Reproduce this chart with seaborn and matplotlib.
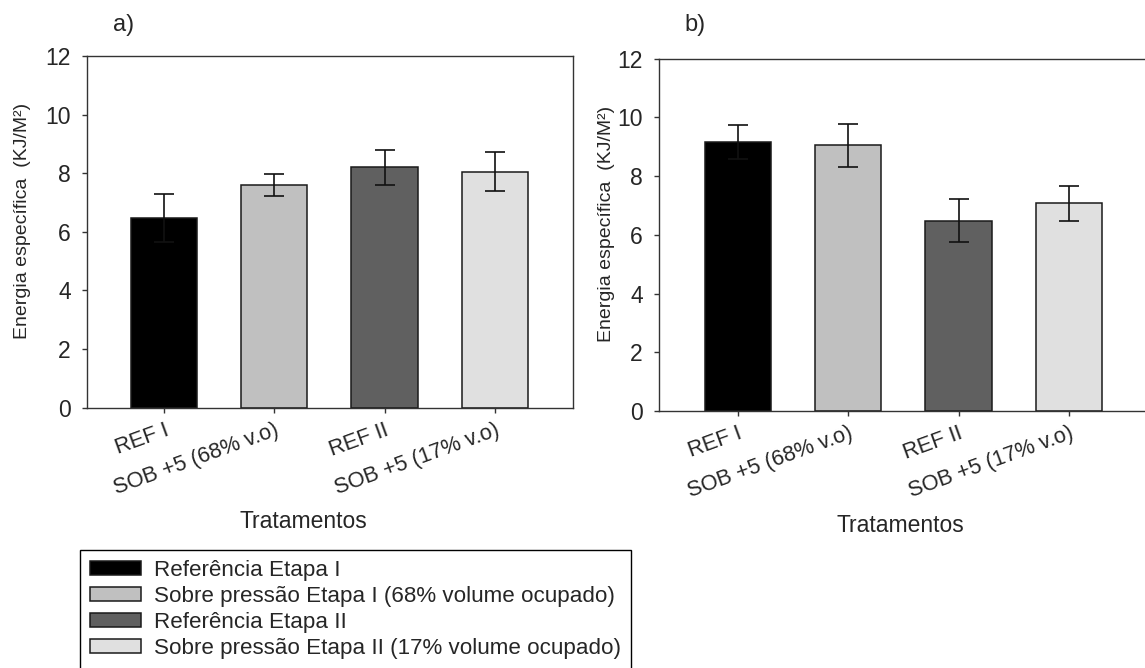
import numpy as np
import pandas as pd
import seaborn as sns
import matplotlib.pyplot as plt
from matplotlib.patches import Patch

# dados
tratamentos = ['REF I', 'SOB +5 (68% v.o)', 'REF II', 'SOB +5 (17% v.o)']
legenda = ['Referência Etapa I',
           'Sobre pressão Etapa I (68% volume ocupado)',
           'Referência Etapa II',
           'Sobre pressão Etapa II (17% volume ocupado)']
cores = ['#000000', '#c0c0c0', '#606060', '#e0e0e0']

media_a = [6.47, 7.60, 8.20, 8.05]
erro_a = [0.83, 0.39, 0.60, 0.67]
media_b = [9.16, 9.05, 6.48, 7.07]
erro_b = [0.57, 0.74, 0.74, 0.60]

yticks = [0, 2, 4, 6, 8, 10, 12]

sns.set_style('ticks')
plt.rcParams['font.family'] = ['Liberation Sans', 'DejaVu Sans']

W, H = 1145, 668
fig = plt.figure(figsize=(W / 100, H / 100), dpi=100)
ax_a = fig.add_axes([87 / W, 1 - 407.7 / H, 486 / W, 351.7 / H])
ax_b = fig.add_axes([659 / W, 1 - 411 / H, 487 / W, 352.3 / H])


def desenha_painel(ax, medias, erros, xlim, xlabel_x, ylabel_x):
    df = pd.DataFrame({'tratamento': tratamentos, 'energia': medias})
    sns.barplot(data=df, x='tratamento', y='energia', hue='tratamento',
                order=tratamentos, hue_order=tratamentos, palette=cores,
                width=0.6, edgecolor='#1a1a1a', linewidth=1.1,
                errorbar=None, legend=False, ax=ax)
    ax.errorbar(np.arange(len(tratamentos)), medias, yerr=erros, fmt='none',
                ecolor='#111111', elinewidth=1.2, capsize=7, capthick=1.2)

    ax.set_ylim(0, 12)
    ax.set_yticks(yticks)
    ax.set_xlim(*xlim)
    ax.set_xticks(np.arange(len(tratamentos)))
    ax.set_xticklabels(tratamentos, rotation=20, ha='right', rotation_mode='anchor')
    ax.tick_params(axis='both', direction='out', length=3.6, width=1.0,
                   color='#333333')
    ax.tick_params(axis='y', pad=8, labelsize=16.5)
    ax.tick_params(axis='x', pad=5, labelsize=15.7)

    for s in ax.spines.values():
        s.set_color('#333333')
        s.set_linewidth(1.0)

    ax.set_ylabel('Energia específica  (KJ/M²)', fontsize=14)
    ax.yaxis.label.set_va('center')
    ax.yaxis.set_label_coords(ylabel_x, 0.532)
    ax.set_xlabel('Tratamentos', fontsize=16.5)
    ax.xaxis.label.set_va('center')
    ax.xaxis.set_label_coords(xlabel_x, -0.3236)


desenha_painel(ax_a, media_a, erro_a, (-0.7, 3.71), 0.445, -0.1327)
desenha_painel(ax_b, media_b, erro_b, (-0.716, 3.70), 0.495, -0.107)
ax_b.spines['right'].set_visible(False)

fig.text(124 / W, 1 - 25 / H, 'a)', fontsize=17, ha='center', va='center')
fig.text(695 / W, 1 - 25 / H, 'b)', fontsize=17, ha='center', va='center')

handles = [Patch(facecolor=c, edgecolor='#1a1a1a', linewidth=1.1, label=l)
           for c, l in zip(cores, legenda)]
leg = fig.legend(handles=handles, loc='upper left',
                 bbox_to_anchor=(80 / W, 1 - 550 / H), frameon=True,
                 fancybox=False, edgecolor='black', framealpha=1,
                 fontsize=16.1, handlelength=2.3, handleheight=0.59,
                 handletextpad=0.54, labelspacing=0.22, borderpad=0.45,
                 borderaxespad=0)
leg.get_frame().set_linewidth(1.0)

fig.savefig('out.png', dpi=100, facecolor='white')
